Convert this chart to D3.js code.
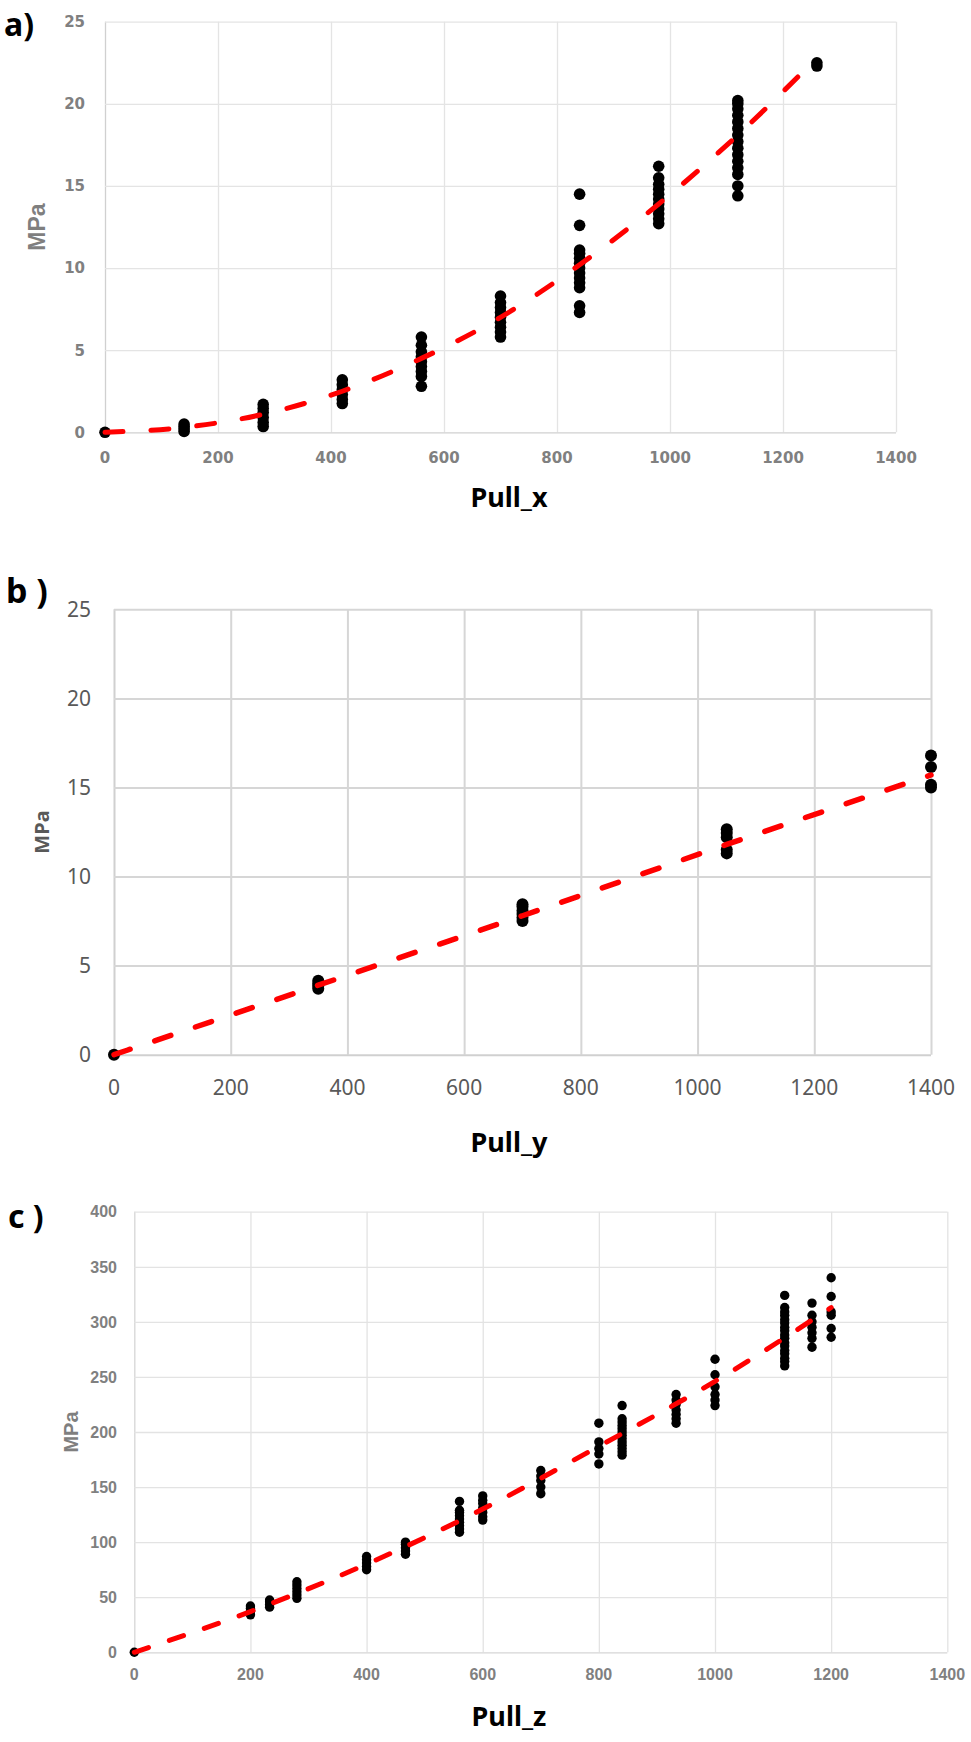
<!DOCTYPE html>
<html>
<head>
<meta charset="utf-8">
<script src="https://cdn.jsdelivr.net/npm/d3@7"></script>
<style>
  html, body { margin: 0; padding: 0; background: #fff; }
  svg { display: block; }
</style>
</head>
<body>
<div id="app"></div>
<script>
// ---- data ----
const xTicks = [0, 200, 400, 600, 800, 1000, 1200, 1400];
const yTicksAB = [0, 5, 10, 15, 20, 25];
const yTicksC = [0, 50, 100, 150, 200, 250, 300, 350, 400];

// a) Pull_x
const pullX = [0, 140, 280, 420, 560, 700, 840, 980, 1120, 1260];
const mpaA = [
  [0],
  [0.05, 0.2, 0.35, 0.5],
  [0.35, 0.6, 0.9, 1.2, 1.45, 1.7],
  [1.75, 2.0, 2.3, 2.6, 2.9, 3.2],
  [2.8, 3.4, 3.7, 4.0, 4.3, 4.6, 4.9, 5.3, 5.8],
  [5.8, 6.1, 6.4, 6.7, 7.0, 7.3, 7.6, 7.9, 8.3],
  [7.3, 7.7, 8.8, 9.1, 9.4, 9.7, 10.0, 10.3, 10.6, 10.9, 11.1, 12.6, 14.5],
  [12.7, 13.0, 13.3, 13.6, 13.9, 14.2, 14.5, 14.8, 15.1, 15.5, 16.2],
  [14.4, 15.0, 15.7, 16.1, 16.5, 16.9, 17.3, 17.7, 18.1, 18.5, 18.9, 19.3, 19.7, 20.0, 20.2],
  [22.3, 22.5]
];
const trendA = [0, 0.3, 1.1, 2.5, 4.5, 7.0, 10.2, 13.9, 18.1, 22.8];

// b) Pull_y
const pullY = [0, 350, 700, 1050, 1400];
const mpaB = [
  [0],
  [3.7, 3.85, 4.0, 4.15],
  [7.5, 7.7, 7.9, 8.1, 8.3, 8.45],
  [11.3, 11.5, 12.2, 12.45, 12.65],
  [15.0, 15.15, 16.15, 16.8]
];
const trendB = [0, 3.9, 7.8, 11.8, 15.7];

// c) Pull_z
const pullZ = [0, 200, 233, 280, 400, 467, 560, 600, 700, 800, 840, 933, 1000, 1120, 1167, 1200];
const mpaC = [
  [0],
  [34, 37, 40, 42],
  [41, 43.5, 46, 47.5],
  [49, 52, 55, 58, 61, 64],
  [75, 78, 81, 84, 87],
  [89, 92, 95, 98, 100],
  [109, 112, 115, 118, 121, 124, 127, 129, 137],
  [120, 123, 127, 131, 135, 138, 142],
  [144, 150, 156, 160, 165],
  [171, 180, 185, 191, 208],
  [179, 182, 185, 188, 191, 194, 197, 200, 203, 206, 209, 212, 224],
  [208, 212, 216, 220, 225, 229, 234],
  [224, 229, 234, 241, 252, 266],
  [260, 264, 267, 271, 274, 278, 281, 285, 288, 292, 295, 299, 302, 306, 309, 313, 324],
  [277, 285, 290, 295, 300, 306, 317],
  [286, 294, 306, 309, 323, 340]
];
const trendCX = [0, 200, 400, 600, 800, 1000, 1200];
const trendCY = [0, 37, 80, 130, 187, 246, 313];

// ---- layout ----
const W = 971, H = 1742;

const svg = d3.select('#app')
  .append('svg')
  .attr('width', W)
  .attr('height', H);

svg.append('rect').attr('width', W).attr('height', H).attr('fill', '#fff');

const panels = [
  {
    tag: 'a)', tagX: 4, tagY: 36, tagSize: 32,
    xs: pullX, ys: mpaA, tx: pullX, ty: trendA, yTicks: yTicksAB,
    left: 105, right: 896, top: 21.7, bottom: 432.3,
    grid: '#e4e4e4', gridW: 1.3, axisCol: '#d0d0d0',
    tickFont: '"DejaVu Sans", sans-serif', tickSize: 15, tickWeight: 'bold', tickCol: '#808080',
    yLabRight: 85, xLabY: 463,
    mpaX: 37, mpaFont: '"Liberation Sans", Arial, sans-serif', mpaSize: 23, mpaCol: '#7f7f7f',
    title: 'Pull_x', titleY: 507,
    r: 5.8, dash: '18,28', lw: 5
  },
  {
    tag: 'b )', tagX: 6, tagY: 603, tagSize: 34,
    xs: pullY, ys: mpaB, tx: pullY, ty: trendB, yTicks: yTicksAB,
    left: 114, right: 931, top: 609.3, bottom: 1054.7,
    grid: '#d6d6d6', gridW: 2, axisCol: '#d0d0d0',
    tickFont: '"Noto Sans", "Open Sans", sans-serif', tickSize: 21, tickWeight: 'normal', tickCol: '#595959',
    yLabRight: 91, xLabY: 1095,
    mpaX: 42, mpaFont: '"Noto Sans", sans-serif', mpaSize: 20, mpaCol: '#595959',
    title: 'Pull_y', titleY: 1152,
    r: 6, dash: '17,26', lw: 5.5
  },
  {
    tag: 'c )', tagX: 8, tagY: 1228, tagSize: 32,
    xs: pullZ, ys: mpaC, tx: trendCX, ty: trendCY, yTicks: yTicksC,
    left: 134.3, right: 947.3, top: 1211.7, bottom: 1652.3,
    grid: '#e3e3e3', gridW: 1.3, axisCol: '#d6d6d6',
    tickFont: '"Liberation Sans", Arial, sans-serif', tickSize: 16, tickWeight: 'bold', tickCol: '#808080',
    yLabRight: 117, xLabY: 1680,
    mpaX: 71, mpaFont: '"Liberation Sans", Arial, sans-serif', mpaSize: 20, mpaCol: '#7f7f7f',
    title: 'Pull_z', titleY: 1726,
    r: 4.7, dash: '15,22', lw: 5
  }
];

panels.forEach((p) => {
  const g = svg.append('g');

  const x = d3.scaleLinear().domain([0, 1400]).range([p.left, p.right]);
  const y = d3.scaleLinear().domain([0, d3.max(p.yTicks)]).range([p.bottom, p.top]);

  // grid
  g.append('g')
    .attr('class', 'grid')
    .attr('transform', 'translate(0,' + p.bottom + ')')
    .call(d3.axisBottom(x).tickValues(xTicks).tickSize(-(p.bottom - p.top)).tickFormat(''))
    .call((s) => s.select('.domain').remove())
    .selectAll('line')
    .attr('stroke', (d) => d === 0 ? p.axisCol : p.grid)
    .attr('stroke-width', p.gridW);

  g.append('g')
    .attr('class', 'grid')
    .attr('transform', 'translate(' + p.left + ',0)')
    .call(d3.axisLeft(y).tickValues(p.yTicks).tickSize(-(p.right - p.left)).tickFormat(''))
    .call((s) => s.select('.domain').remove())
    .selectAll('line')
    .attr('stroke', (d) => d === 0 ? p.axisCol : p.grid)
    .attr('stroke-width', p.gridW);

  // tick labels
  g.selectAll('.ylab')
    .data(p.yTicks)
    .enter()
    .append('text')
    .attr('x', p.yLabRight)
    .attr('y', (d) => y(d))
    .attr('dy', '0.36em')
    .attr('text-anchor', 'end')
    .style('font-family', p.tickFont)
    .style('font-size', p.tickSize + 'px')
    .style('font-weight', p.tickWeight)
    .style('fill', p.tickCol)
    .text((d) => d);

  g.selectAll('.xlab')
    .data(xTicks)
    .enter()
    .append('text')
    .attr('x', (d) => x(d))
    .attr('y', p.xLabY)
    .attr('text-anchor', 'middle')
    .style('font-family', p.tickFont)
    .style('font-size', p.tickSize + 'px')
    .style('font-weight', p.tickWeight)
    .style('fill', p.tickCol)
    .text((d) => d);

  // axis titles
  g.append('text')
    .attr('transform', 'translate(' + p.mpaX + ',' + ((p.top + p.bottom) / 2) + ') rotate(-90)')
    .attr('dy', '0.35em')
    .attr('text-anchor', 'middle')
    .style('font-family', p.mpaFont)
    .style('font-size', p.mpaSize + 'px')
    .style('font-weight', 'bold')
    .style('fill', p.mpaCol)
    .text('MPa');

  g.append('text')
    .attr('x', 509)
    .attr('y', p.titleY)
    .attr('text-anchor', 'middle')
    .style('font-family', '"Noto Sans", "Open Sans", sans-serif')
    .style('font-size', '27px')
    .style('font-weight', 'bold')
    .style('fill', '#000')
    .text(p.title);

  g.append('text')
    .attr('x', p.tagX)
    .attr('y', p.tagY)
    .style('font-family', '"Noto Sans", "Open Sans", sans-serif')
    .style('font-size', p.tagSize + 'px')
    .style('font-weight', 'bold')
    .style('fill', '#000')
    .text(p.tag);

  // points
  const pts = [];
  p.xs.forEach((xv, i) => p.ys[i].forEach((v) => pts.push([xv, v])));

  g.append('g')
    .selectAll('circle')
    .data(pts)
    .enter()
    .append('circle')
    .attr('cx', (d) => x(d[0]))
    .attr('cy', (d) => y(d[1]))
    .attr('r', p.r)
    .attr('fill', '#000');

  // trend line
  const line = d3.line()
    .x((d) => x(d[0]))
    .y((d) => y(d[1]))
    .curve(d3.curveMonotoneX);

  g.append('path')
    .datum(p.tx.map((xv, i) => [xv, p.ty[i]]))
    .attr('d', line)
    .attr('fill', 'none')
    .attr('stroke', '#ff0000')
    .attr('stroke-width', p.lw)
    .attr('stroke-linecap', 'round')
    .attr('stroke-dasharray', p.dash);
});
</script>
</body>
</html>
